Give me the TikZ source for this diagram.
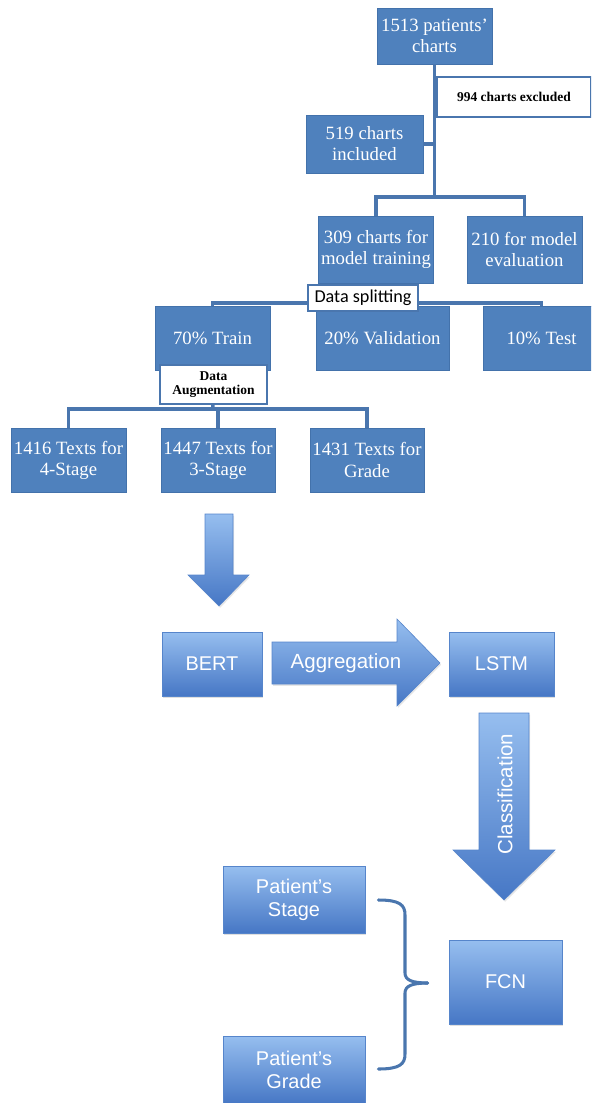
\documentclass[tikz,border=0pt]{standalone}
\usepackage{fontspec}
\setmainfont{Liberation Serif}
\setsansfont{Liberation Sans}
\newfontfamily\calfont{Carlito}
\usetikzlibrary{calc,shadows}

\definecolor{boxblue}{HTML}{4F81BD}
\definecolor{boxedge}{HTML}{4372AB}
\definecolor{lineblue}{HTML}{4A76AE}
\definecolor{gradtop}{HTML}{96BEEF}
\definecolor{gradbot}{HTML}{4677C5}
\definecolor{gradedge}{HTML}{5685CB}

\tikzset{
  tbox/.style={rectangle, fill=boxblue, draw=boxedge, line width=0.6pt, text=white,
    align=center, inner sep=2pt, font=\fontsize{16}{18}\selectfont},
  gbox/.style={rectangle, top color=gradtop, bottom color=gradbot, draw=gradedge,
    line width=0.5pt, text=white, align=center, font=\sffamily\fontsize{17}{19.5}\selectfont,
    drop shadow={shadow xshift=1pt, shadow yshift=-1.5pt, opacity=0.25}},
  lbox/.style={rectangle, fill=white, draw=lineblue, align=center, inner sep=1pt},
  conn/.style={draw=lineblue, line width=3pt},
  brace/.style={draw=lineblue, line width=2.6pt, line cap=round},
  barrow/.style={top color=gradtop, bottom color=gradbot, draw=gradedge, line width=0.5pt,
    drop shadow={shadow xshift=1pt, shadow yshift=-1.5pt, opacity=0.2}},
  atext/.style={text=white, font=\sffamily\fontsize{17.5}{19.5}\selectfont}
}

\begin{document}
\begin{tikzpicture}[x=0.03cm, y=-0.03cm]
  \clip (0,0) rectangle (591,1103);

  % Chart selection
  \node[tbox, minimum width=3.45cm, minimum height=1.68cm] (pts) at (434.5,36) {1513 patients'\\charts};
  \node[tbox, minimum width=3.51cm, minimum height=1.74cm] (incl) at (364.5,144) {519 charts\\included};
  \node[tbox, minimum width=3.39cm, minimum height=2.01cm] (trn309) at (376,249.5) {309 charts for\\model training};
  \node[tbox, minimum width=3.45cm, minimum height=2.01cm] (eval210) at (524.5,249.5) {210 for model\\evaluation};

  % Data splitting
  \node[tbox, minimum width=3.45cm, minimum height=1.92cm] (trn70) at (212.5,338) {70\% Train};
  \node[tbox, minimum width=3.99cm, minimum height=1.92cm] (val20) at (382.5,338) {20\% Validation};
  \node[tbox, minimum width=3.51cm, minimum height=1.92cm] (tst10) at (541.5,338) {10\% Test};

  % Data augmentation
  \node[tbox, minimum width=3.45cm, minimum height=1.92cm] (t4) at (68.5,460) {1416 Texts for\\4-Stage};
  \node[tbox, minimum width=3.42cm, minimum height=1.92cm] (t3) at (218,460) {1447 Texts for\\3-Stage};
  \node[tbox, minimum width=3.42cm, minimum height=1.92cm] (tg) at (367,460) {1431 Texts for\\Grade};

  % tree lines
  \coordinate (j1) at (434.5,197);
  \draw[conn] (pts.south) -- (j1);
  \draw[conn] (incl.east) -- (incl.east -| j1);
  \draw[conn] (trn309.north) |- (j1) -| (eval210.north);

  \coordinate (j2) at (376,303);
  \draw[conn] (trn309.south) -- (j2);
  \draw[conn] (trn70.north) |- (j2) -| (tst10.north);
  \draw[conn] (val20.north) -- (val20.north |- j2);

  \coordinate (j3) at (213,409);
  \draw[conn] (trn70.south) -- (j3);
  \draw[conn] (t4.north) |- (j3) -| (tg.north);
  \draw[conn] (t3.north) -- (t3.north |- j3);

  % labels on the lines
  \node[lbox, line width=2.5pt, minimum width=4.62cm, minimum height=1.2cm,
    font=\bfseries\fontsize{11.5}{13}\selectfont] (excl) at (514,97) {994 charts excluded};
  \node[lbox, line width=1.8pt, minimum width=3.3cm, minimum height=0.78cm,
    font=\calfont\fontsize{15.5}{17}\selectfont] (split) at (363,298) {Data splitting};
  \node[lbox, line width=1.2pt, minimum width=3.21cm, minimum height=1.17cm,
    font=\bfseries\fontsize{11.5}{12.5}\selectfont] (aug) at (213.5,384.5) {Data\\Augmentation};

  % Model
  \node[gbox, minimum width=3cm, minimum height=1.92cm] (bert) at (212,664) {BERT};
  \node[gbox, minimum width=3.15cm, minimum height=1.92cm] (lstm) at (501.5,664) {LSTM};
  \node[gbox, minimum width=4.26cm, minimum height=2.01cm] (stage) at (294,899.5) {Patient's\\Stage};
  \node[gbox, minimum width=4.26cm, minimum height=2.04cm] (grade) at (294,1070) {Patient's\\Grade};
  \node[gbox, minimum width=3.39cm, minimum height=2.52cm] (fcn) at (505.5,982) {FCN};

  % block arrows
  \path[barrow] (205,514) -- (233,514) -- (233,575) -- (249,575) -- (219,606) -- (188,575) -- (205,575) -- cycle;
  \path[barrow] (272,642) -- (397,642) -- (397,619) -- (440,663) -- (397,706) -- (397,684) -- (272,684) -- cycle;
  \node[atext] (aggr) at (346,663) {Aggregation};
  \path[barrow] (479,713) -- (529,713) -- (529,850) -- (555,850) -- (504,900) -- (453,850) -- (479,850) -- cycle;
  \node[atext, rotate=90] (clsf) at (505,794) {Classification};

  % brace into FCN
  \draw[brace] ($(stage.east)+(13,0.5)$) .. controls (400,900) and (405,905) .. (405,915) -- (405,973)
    .. controls (405,980) and (412,983) .. ($(fcn.west)+(-21,1)$);
  \draw[brace] ($(grade.east)+(13,-1)$) .. controls (400,1069) and (405,1064) .. (405,1054) -- (405,993)
    .. controls (405,986) and (412,983) .. ($(fcn.west)+(-21,1)$);
\end{tikzpicture}
\end{document}
